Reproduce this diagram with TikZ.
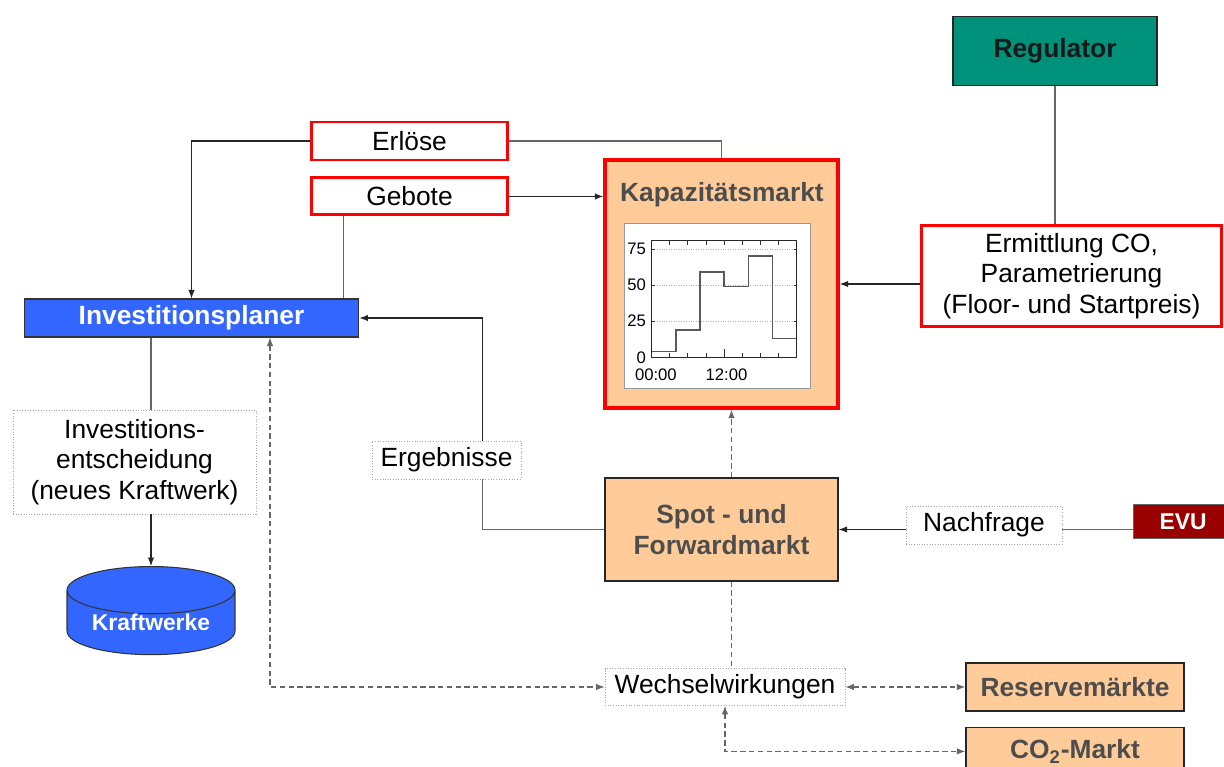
\documentclass[tikz,border=0pt]{standalone}
\usepackage{fontspec}
\setmainfont{Liberation Sans}
\usepackage{xcolor}
\definecolor{peach}{HTML}{FFCC99}
\definecolor{regteal}{HTML}{00917A}
\definecolor{planblue}{HTML}{3366FF}
\definecolor{evured}{HTML}{990000}
\definecolor{darktext}{HTML}{4D4D4D}
\usetikzlibrary{positioning, calc, arrows.meta, shapes.geometric}

\begin{document}
\begin{tikzpicture}[x=0.02cm, y=-0.02cm, thick,
        every node/.style={font=\fontsize{15}{17.5}\selectfont, inner sep=0pt, align=center},
        redbox/.style={draw=red, line width=1.7pt, fill=white},
        dotbox/.style={draw=black!35, densely dotted, line width=0.5pt, fill=white},
        market/.style={draw=black!85, line width=0.8pt, fill=peach, text=darktext, font=\fontsize{15}{18}\selectfont\bfseries},
        conn/.style={draw=black!60, line width=0.6pt},
        arr/.style={draw=black!85, line width=0.6pt, -{Latex[length=1.7mm,width=1.3mm]}},
        wirk/.style={draw=black!60, densely dashed, line width=0.6pt},
        tip/.style={-{Latex[length=1.7mm,width=1.3mm]}},
        tips/.style={{Latex[length=1.7mm,width=1.3mm]}-{Latex[length=1.7mm,width=1.3mm]}}]
        \useasboundingbox (0,0) rectangle (1224,767);

        \node[draw=black!85, line width=0.8pt, fill=regteal, minimum width=4.08cm, minimum height=1.38cm, font=\fontsize{15}{18}\selectfont\bfseries, text=black!90] (reg) at (1055,51) {Regulator};
        \node[redbox, minimum width=6.02cm, minimum height=2.04cm] (erm) at (1071.5,276) {Ermittlung CO,\\Parametrierung\\(Floor- und Startpreis)};

        \node[redbox, minimum width=3.94cm, minimum height=0.76cm] (erl) at (409.5,141) {Erlöse};
        \node[redbox, minimum width=3.94cm, minimum height=0.74cm, below=0.3cm of erl] (geb) {Gebote};

        \node[redbox, line width=2pt, fill=peach, minimum width=4.66cm, minimum height=4.96cm] (kap) at (721.5,284) {};
        \node[text=darktext, font=\fontsize{15}{18}\selectfont\bfseries] (kaptitle) at (722,195) {Kapazitätsmarkt};
        \node[draw=black!40, line width=0.4pt, fill=white, minimum width=3.72cm, minimum height=3.3cm] (chart) at (717,305.5) {};

        % step chart
        \begin{scope}[shift={($(chart.south west)+(28,-31)$)}, x=0.1208cm, y=0.02888cm]
            \foreach \v in {25,50,75}
                \draw[densely dotted, black!30, line width=0.4pt] (0,\v) -- (24,\v);
            \foreach \h in {3,6,...,21} {
                \draw[black!80, line width=0.5pt] (\h,0) -- (\h,3);
                \draw[black!80, line width=0.5pt] (\h,81) -- (\h,78);
            }
            \draw[black!80, line width=0.5pt] (12,0) -- (12,6);
            \foreach \v in {25,50,75} {
                \draw[black!80, line width=0.5pt] (0,\v) -- (0.5,\v);
                \draw[black!80, line width=0.5pt] (24,\v) -- (23.5,\v);
            }
            \draw[black!65, line width=0.9pt] (0,4) -- (4,4) -- (4,19) -- (8,19) -- (8,59) -- (12,59) -- (12,49)
                -- (16,49) -- (16,70) -- (20,70) -- (20,13) -- (24,13);
            \draw[black!85, line width=0.9pt] (0,0) rectangle (24,81);
            \foreach \v in {0,25,50,75}
                \node[left=0.1cm, font=\fontsize{9.5}{10}\selectfont] (ylab\v) at (0,\v) {\v};
            \node[font=\fontsize{9.5}{10}\selectfont] (xlab0) at (0.7,-12) {00:00};
            \node[font=\fontsize{9.5}{10}\selectfont] (xlab12) at (12.4,-12) {12:00};
        \end{scope}

        \node[draw=black!80, line width=0.6pt, fill=planblue, minimum width=6.7cm, minimum height=0.76cm, text=white, font=\fontsize{15}{18}\selectfont\bfseries] (inv) at (191.5,318) {Investitionsplaner};
        \node[dotbox, minimum width=4.86cm, minimum height=2.08cm] (ent) at (134.5,462) {Investitions-\\entscheidung\\(neues Kraftwerk)};
        \node[cylinder, shape border rotate=90, aspect=0.4, draw=black!80, line width=0.6pt, fill=planblue, minimum width=3.36cm, minimum height=0.6cm, text=white, font=\fontsize{13}{15}\selectfont\bfseries, anchor=north] (kw) at (151,566) {Kraftwerke};

        \node[dotbox, minimum width=2.98cm, minimum height=0.76cm] (erg) at (446.5,460) {Ergebnisse};
        \node[market, minimum width=4.66cm, minimum height=2.06cm] (spot) at (721.5,529.5) {Spot - und\\Forwardmarkt};
        \node[dotbox, minimum width=3.12cm, minimum height=0.76cm] (nach) at (984,525) {Nachfrage};
        \node[draw=black!60, line width=0.5pt, fill=evured, minimum width=2cm, minimum height=0.68cm, text=white, font=\fontsize{13}{15}\selectfont\bfseries] (evu) at (1183,521.5) {EVU};

        \node[dotbox, minimum width=4.8cm, minimum height=0.74cm] (wech) at (725,687) {Wechselwirkungen};
        \node[market, minimum width=4.36cm, minimum height=0.96cm] (res) at (1075,687) {Reservemärkte};
        \node[market, minimum width=4.36cm, minimum height=0.96cm, below=0.3cm of res] (co2) {CO\textsubscript{2}-Markt};

        % connectors
        \coordinate (gebfoot) at ($(inv.north east)+(-16,0)$);
        \coordinate (spotn) at ($(spot.north)+(10,0)$);
        \coordinate (spots) at ($(spot.south)+(10,0)$);
        \coordinate (ergs) at ($(erg.south)+(36,0)$);
        \coordinate (ergn) at ($(erg.north)+(36,0)$);
        \coordinate (invw) at ($(inv.south)+(78.5,0)$);

        \draw[conn] (kap.north) |- (erl.east);
        \draw[arr] (erl.west) -| (inv.north);
        \draw[conn] (gebfoot) -- (gebfoot |- geb.south);
        \draw[arr] (geb.east) -- (geb.east -| kap.west);
        \draw[conn] (reg.south) -- (reg.south |- erm.north);
        \draw[arr] (erm.west |- kap.east) -- (kap.east);
        \draw[wirk, tip] (spotn) -- (spotn |- kap.south);
        \draw[conn] (spot.west) -| (ergs);
        \draw[arr] (ergn) |- (inv.east);
        \draw[conn] (evu.west |- spot.east) -- (nach.east |- spot.east);
        \draw[arr] (nach.west |- spot.east) -- (spot.east);
        \draw[conn] (kw.north |- inv.south) -- (kw.north |- ent.north);
        \draw[arr] (kw.north |- ent.south) -- (kw.north);
        \draw[wirk] (spots) -- (spots |- wech.north);
        \draw[wirk, tips] (invw) |- (wech.west);
        \draw[wirk, tips] (wech.east) -- (wech.east -| res.west);
        \draw[wirk, tips] (wech.south) |- (co2.west);
    \end{tikzpicture}
\end{document}
